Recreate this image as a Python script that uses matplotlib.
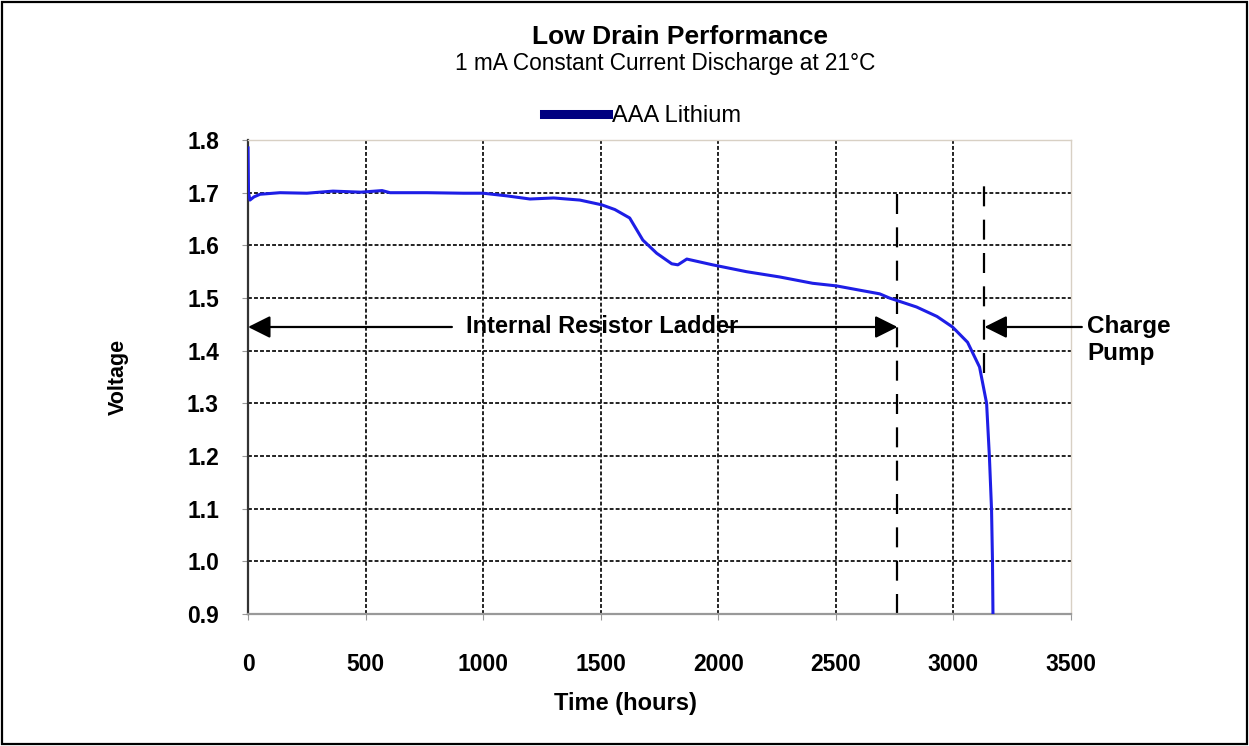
import matplotlib
matplotlib.use("Agg")
import matplotlib.pyplot as plt
from matplotlib.patches import Rectangle

plt.rcParams['font.family'] = ['Liberation Sans', 'DejaVu Sans']

# discharge curve
time_h = [0, 2, 8, 25, 51, 136, 250, 361, 480, 570, 604, 760, 915, 1000, 1100, 1199,
          1300, 1411, 1504, 1560, 1623, 1679, 1738, 1802, 1828, 1866, 1976, 2120,
          2261, 2401, 2503, 2600, 2686, 2728, 2843, 2930, 2996, 3060, 3111, 3141,
          3153, 3162, 3166, 3168]
voltage = [1.785, 1.70, 1.686, 1.692, 1.697, 1.700, 1.699, 1.703, 1.701, 1.704,
           1.700, 1.700, 1.699, 1.699, 1.694, 1.688, 1.690, 1.686, 1.677, 1.668,
           1.652, 1.610, 1.585, 1.565, 1.563, 1.574, 1.563, 1.550, 1.540, 1.528,
           1.523, 1.515, 1.508, 1.500, 1.483, 1.465, 1.445, 1.416, 1.369, 1.300,
           1.198, 1.098, 1.000, 0.902]

x_ticks = [0, 500, 1000, 1500, 2000, 2500, 3000, 3500]
y_ticks = [0.9, 1.0, 1.1, 1.2, 1.3, 1.4, 1.5, 1.6, 1.7, 1.8]

ladder_end = 2762   # end of internal resistor ladder region
pump_start = 3132   # start of charge pump region
arrow_v = 1.445

fig = plt.figure(figsize=(12.49, 7.46), dpi=100)
ax = fig.add_axes([0.1986, 0.1769, 0.6589, 0.6354])

ax.plot(time_h, voltage, color='#1e1ee6', lw=2.2, label='AAA Lithium', zorder=3)

ax.set_xlim(0, 3500)
ax.set_ylim(0.9, 1.8)
ax.set_xticks(x_ticks)
ax.set_yticks(y_ticks)
ax.set_yticklabels([f"{v:.1f}" for v in y_ticks])
ax.tick_params(axis='both', labelsize=16.5, length=4, color='#999999')
ax.tick_params(axis='y', pad=17)
ax.tick_params(axis='x', pad=24)
for lab in ax.get_xticklabels() + ax.get_yticklabels():
    lab.set_fontweight('bold')

# grid, skipping the frame edges
for xv in x_ticks[1:-1]:
    ax.axvline(xv, color='#222222', lw=1.4, ls=(0, (2, 1.1)), zorder=1)
for yv in y_ticks[1:-1]:
    ax.axhline(yv, color='#222222', lw=1.4, ls=(0, (2, 1.1)), zorder=1)

ax.spines['left'].set_color('#333333')
ax.spines['left'].set_linewidth(1.6)
ax.spines['bottom'].set_color('#999999')
ax.spines['bottom'].set_linewidth(1.6)
for s in ['top', 'right']:
    ax.spines[s].set_color('#d8d0c4')
    ax.spines[s].set_linewidth(1.0)

ax.set_xlabel('Time (hours)', fontsize=17, fontweight='bold')
ax.set_ylabel('Voltage', fontsize=15.5, fontweight='bold')
ax.xaxis.set_label_coords(0.458, -0.165)
ax.yaxis.set_label_coords(-0.145, 0.5)

# region markers
ax.plot([ladder_end, ladder_end], [0.9, 1.722], color='black', lw=1.6,
        ls=(0, (9, 6)), zorder=2)
ax.plot([pump_start, pump_start], [1.357, 1.726], color='black', lw=1.6,
        ls=(0, (9, 6)), zorder=2)

arrow_kw = dict(arrowstyle='-|>', color='black', lw=1.6, mutation_scale=34,
                shrinkA=0, shrinkB=0)
ax.annotate('', xy=(0, arrow_v), xytext=(867, arrow_v), arrowprops=arrow_kw)
ax.annotate('', xy=(ladder_end, arrow_v), xytext=(2036, arrow_v), arrowprops=arrow_kw)
ax.text(1504, arrow_v, 'Internal Resistor Ladder', fontsize=17, fontweight='bold',
        ha='center', va='center', zorder=4)
ax.annotate('', xy=(pump_start, arrow_v), xytext=(3546, arrow_v),
            arrowprops=arrow_kw, annotation_clip=False)
ax.text(3568, arrow_v + 0.022, 'Charge\nPump', fontsize=17.5, fontweight='bold',
        ha='left', va='top', linespacing=1.2, clip_on=False)

leg = ax.legend(loc='center', bbox_to_anchor=(0.5145, 0.8445),
                bbox_transform=fig.transFigure, frameon=False, fontsize=17,
                handlelength=2.7, handletextpad=0.15)
leg.legend_handles[0].set_color('#000080')
leg.legend_handles[0].set_linewidth(6.5)

fig.text(0.5445, 0.950, 'Low Drain Performance', fontsize=19, fontweight='bold',
         ha='center', va='center')
fig.text(0.5325, 0.915, '1 mA Constant Current Discharge at 21\u00b0C', fontsize=16.3,
         ha='center', va='center')

fig.add_artist(Rectangle((0.0016, 0.003), 0.9968, 0.994, transform=fig.transFigure,
                         fill=False, lw=1.6, edgecolor='black'))

fig.savefig('out.png', dpi=100)
